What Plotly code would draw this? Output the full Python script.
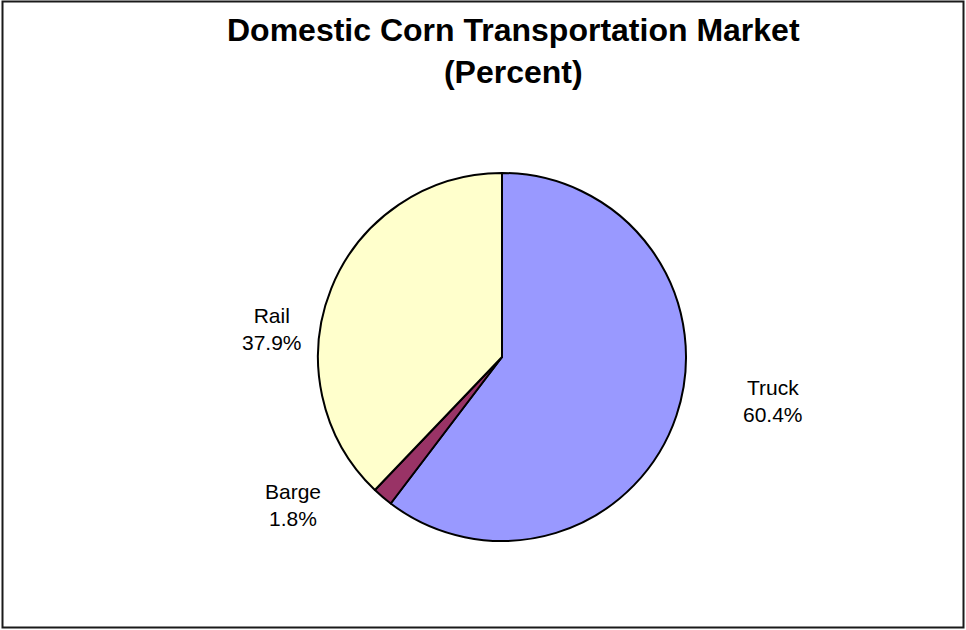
import plotly.graph_objects as go

# Domestic corn transportation market shares (percent)
modes = ["Truck", "Barge", "Rail"]
shares = [60.4, 1.8, 37.9]
colors = ["#9999FF", "#993366", "#FFFFCC"]

W, H = 966, 630

# pie geometry in pixels
cx, cy, r = 502, 357, 184

# label anchor points (pixels) for each mode
label_pos = {"Truck": (773, 401), "Barge": (293, 505), "Rail": (272, 329)}

fig = go.Figure()
fig.add_trace(go.Pie(
    labels=modes,
    values=shares,
    sort=False,
    direction="clockwise",
    rotation=0,
    textinfo="none",
    hoverinfo="label+percent",
    marker=dict(colors=colors, line=dict(color="#000000", width=2)),
    domain=dict(x=[(cx - r) / W, (cx + r) / W],
                y=[1 - (cy + r) / H, 1 - (cy - r) / H]),
    showlegend=False,
))

for m, v in zip(modes, shares):
    px, py = label_pos[m]
    fig.add_annotation(
        x=px / W, y=1 - py / H, xref="paper", yref="paper",
        text=f"{m}<br>{v:.1f}%", showarrow=False,
        font=dict(family="Liberation Sans, Arial", size=21, color="#000000"),
        align="center", xanchor="center", yanchor="middle",
    )

fig.add_annotation(
    x=513 / W, y=1 - 51 / H, xref="paper", yref="paper",
    text="<b>Domestic Corn Transportation Market<br>(Percent)</b>",
    showarrow=False, align="center", xanchor="center", yanchor="middle",
    font=dict(family="Liberation Sans, Arial", size=32, color="#000000"),
)

# chart frame
fig.add_shape(type="rect", xref="paper", yref="paper",
              x0=2.5 / W, x1=963.5 / W, y0=1 - 627.5 / H, y1=1 - 1.5 / H,
              line=dict(color="#1a1a1a", width=2))

fig.update_layout(
    width=W, height=H,
    margin=dict(l=0, r=0, t=0, b=0),
    paper_bgcolor="#FFFFFF",
    plot_bgcolor="#FFFFFF",
)

fig.write_html("out.html")
